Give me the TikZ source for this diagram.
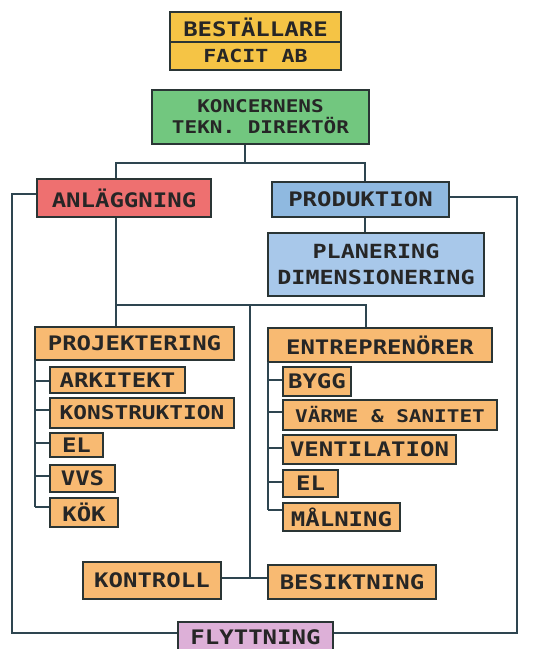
\documentclass[tikz,border=0pt]{standalone}
\usepackage{fontspec}
\newfontfamily\hand[FakeStretch=1.2]{DejaVu Sans Mono Bold}
\begin{document}
\begin{tikzpicture}[x=1pt,y=-1pt,
  box/.style={draw=boxline, line width=1.8pt, inner sep=0pt, align=center,
    font=\hand\fontsize{20}{21}\selectfont, text=black!85},
  conn/.style={draw=connline, line width=1.8pt}]
\definecolor{boxline}{HTML}{2A3535}
\definecolor{connline}{HTML}{2E4550}
\definecolor{cyellow}{HTML}{F5C445}
\definecolor{cgreen}{HTML}{72C77F}
\definecolor{cred}{HTML}{EE7070}
\definecolor{cblue}{HTML}{8FB9E0}
\definecolor{cltblue}{HTML}{A8C8EA}
\definecolor{corange}{HTML}{F8BA72}
\definecolor{cpink}{HTML}{DDB0D8}
\useasboundingbox (0,0) rectangle (547,649);
\clip (0,0) rectangle (547,649);
\fill[white] (0,0) rectangle (547,649);

\node[box, fill=cyellow, minimum width=171pt, minimum height=30pt] (best) at (255.5,27) {BESTÄLLARE};
\node[box, fill=cyellow, minimum width=171pt, minimum height=28pt, font=\hand\fontsize{18}{19}\selectfont] (facit) at (255.5,56) {FACIT AB};
\node[box, fill=cgreen, minimum width=217pt, minimum height=54pt, font=\hand\fontsize{17.5}{21}\selectfont] (konc) at (260.5,117) {KONCERNENS\\TEKN. DIREKTÖR};
\node[box, fill=cred, minimum width=174pt, minimum height=38pt] (anl) at (124,198) {ANLÄGGNING};
\node[box, fill=cblue, minimum width=177pt, minimum height=35pt] (prod) at (360.5,199.5) {PRODUKTION};
\node[box, fill=cltblue, minimum width=216pt, minimum height=63pt, font=\hand\fontsize{19.5}{26}\selectfont] (plan) at (376,264.5) {PLANERING\\DIMENSIONERING};
\node[box, fill=corange, minimum width=199pt, minimum height=33pt] (proj) at (134.5,343.5) {PROJEKTERING};
\node[box, fill=corange, minimum width=135pt, minimum height=26pt] (ark) at (117.5,380) {ARKITEKT};
\node[box, fill=corange, minimum width=184pt, minimum height=30pt, font=\hand\fontsize{19}{20}\selectfont] (konstr) at (142,413) {KONSTRUKTION};
\node[box, fill=corange, minimum width=53pt, minimum height=24pt] (elA) at (76.5,445) {EL};
\node[box, fill=corange, minimum width=65pt, minimum height=27pt] (vvs) at (82.5,478.5) {VVS};
\node[box, fill=corange, minimum width=68pt, minimum height=29pt] (kok) at (84,512.5) {KÖK};
\node[box, fill=corange, minimum width=224pt, minimum height=34pt] (entr) at (380,345) {ENTREPRENÖRER};
\node[box, fill=corange, minimum width=68pt, minimum height=29pt] (bygg) at (317,381.5) {BYGG};
\node[box, fill=corange, minimum width=214pt, minimum height=30pt, font=\hand\fontsize{17.5}{19}\selectfont] (varme) at (390,415) {VÄRME \& SANITET};
\node[box, fill=corange, minimum width=173pt, minimum height=29pt] (vent) at (369.5,449.5) {VENTILATION};
\node[box, fill=corange, minimum width=55pt, minimum height=27pt] (elB) at (310.5,483.5) {EL};
\node[box, fill=corange, minimum width=117pt, minimum height=28pt] (maln) at (341.5,517) {MÅLNING};
\node[box, fill=corange, minimum width=138pt, minimum height=37pt] (kontr) at (152,580.5) {KONTROLL};
\node[box, fill=corange, minimum width=168pt, minimum height=34pt] (besik) at (352,582) {BESIKTNING};
\node[box, fill=cpink, minimum width=155pt, minimum height=30pt, anchor=north] (flytt) at (255.5,621) {FLYTTNING};

% connectors
\coordinate (jtop) at (245,163);
\coordinate (jmid) at (250,305);
\coordinate (lft) at (12,194);
\coordinate (rgt) at (517,197);
\coordinate (lbot) at (12,633);
\coordinate (rbot) at (517,633);

\draw[conn, line width=2.6pt] (jtop |- konc.south) -- (jtop);
\draw[conn] (anl.north -| 116,0) |- (jtop) -| (prod.north -| 365,0);
\draw[conn] (prod.south -| 365,0) -- (plan.north -| 365,0);
\draw[conn] (anl.west |- lft) -- (lft) -- (lbot) -- (flytt.west |- lbot);
\draw[conn] (prod.east |- rgt) -- (rgt) -- (rbot) -- (flytt.east |- rbot);
\draw[conn] (anl.south -| 116,0) -- (proj.north -| 116,0);
\draw[conn] (116,305) -| (entr.north -| 366,0);
\draw[conn] (jmid) -- (250,578);
\draw[conn] (kontr.east |- 0,578) -- (besik.west |- 0,578);

% projektering branch
\draw[conn] (35,360) -- (35,507);
\draw[conn] (35,381) -- (ark.west |- 0,381);
\draw[conn] (35,410) -- (konstr.west |- 0,410);
\draw[conn] (35,443) -- (elA.west |- 0,443);
\draw[conn] (35,476) -- (vvs.west |- 0,476);
\draw[conn] (35,507) -- (kok.west |- 0,507);

% entreprenorer branch
\draw[conn] (268,362) -- (268,510);
\draw[conn] (268,380) -- (bygg.west |- 0,380);
\draw[conn] (268,412) -- (varme.west |- 0,412);
\draw[conn] (268,448) -- (vent.west |- 0,448);
\draw[conn] (268,482) -- (elB.west |- 0,482);
\draw[conn] (268,510) -- (maln.west |- 0,510);
\end{tikzpicture}
\end{document}
